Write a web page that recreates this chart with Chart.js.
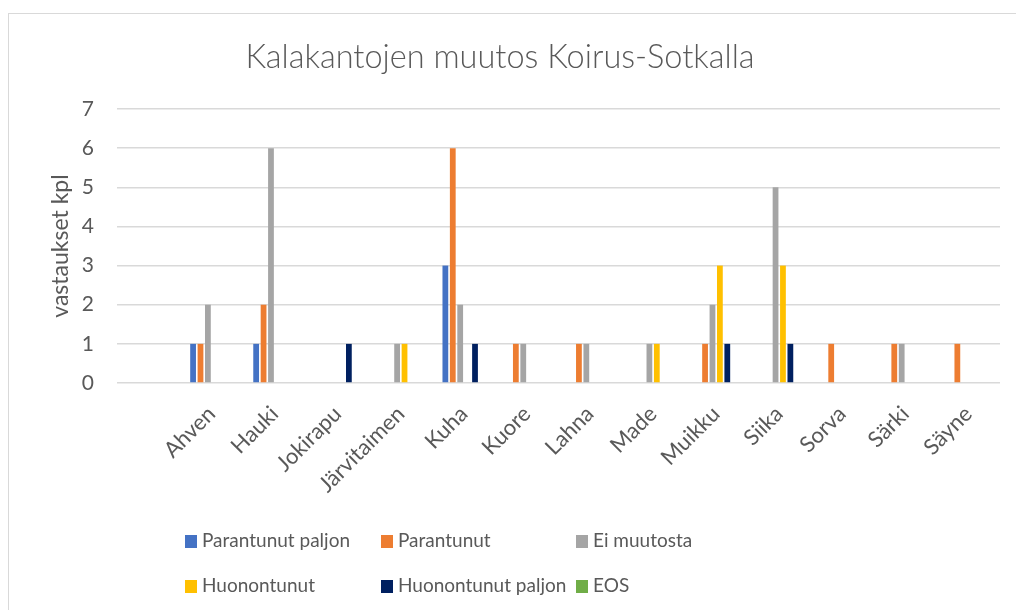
<!DOCTYPE html>
<html lang="fi">
<head>
  <meta charset="UTF-8" />
  <title>Kalakantojen muutos Koirus-Sotkalla</title>
  <script src="https://cdn.jsdelivr.net/npm/chart.js"></script>
  <style>
    body {
      margin: 0;
      background: #fff;
      font-family: Lato, 'Open Sans', Arial, sans-serif;
    }
    .wrap {
      position: relative;
      width: 1016px;
      height: 610px;
      overflow: hidden;
    }
    .frame {
      position: absolute;
      left: 8px;
      top: 13px;
      width: 1100px;
      height: 700px;
      border: 1px solid #d9d9d9;
    }
    canvas {
      position: absolute;
      left: 0;
      top: 0;
    }
    .legend-item {
      position: absolute;
      font-size: 19px;
      color: #595959;
      line-height: 22px;
      white-space: nowrap;
    }
    .legend-item span {
      display: inline-block;
      width: 12px;
      height: 13px;
      margin-right: 5px;
      vertical-align: -1px;
    }
  </style>
</head>
<body>
  <div class="wrap">
    <div class="frame"></div>
    <canvas id="kalaChart" width="1016" height="610"></canvas>
    <div id="legend"></div>
  </div>

  <script>
    // ensimmäinen luokka on tyhjä, kuten alkuperäisessä kuvassa
    const lajit = ['', 'Ahven', 'Hauki', 'Jokirapu', 'Järvitaimen', 'Kuha', 'Kuore', 'Lahna', 'Made', 'Muikku', 'Siika', 'Sorva', 'Särki', 'Säyne'];

    const parantunutPaljon = [null, 1, 1, 0, 0, 3, 0, 0, 0, 0, 0, 0, 0, 0];
    const parantunut       = [null, 1, 2, 0, 0, 6, 1, 1, 0, 1, 0, 1, 1, 1];
    const eiMuutosta       = [null, 2, 6, 0, 1, 2, 1, 1, 1, 2, 5, 0, 1, 0];
    const huonontunut      = [null, 0, 0, 0, 1, 0, 0, 0, 1, 3, 3, 0, 0, 0];
    const huonontunutPaljon = [null, 0, 0, 1, 0, 1, 0, 0, 0, 1, 1, 0, 0, 0];
    const eos              = [null, 0, 0, 0, 0, 0, 0, 0, 0, 0, 0, 0, 0, 0];

    const sarjat = [
      { nimi: 'Parantunut paljon', arvot: parantunutPaljon, vari: '#4472C4' },
      { nimi: 'Parantunut', arvot: parantunut, vari: '#ED7D31' },
      { nimi: 'Ei muutosta', arvot: eiMuutosta, vari: '#A5A5A5' },
      { nimi: 'Huonontunut', arvot: huonontunut, vari: '#FFC000' },
      { nimi: 'Huonontunut paljon', arvot: huonontunutPaljon, vari: '#002060' },
      { nimi: 'EOS', arvot: eos, vari: '#70AD47' }
    ];

    const fontti = 'Lato, "Open Sans", Arial, sans-serif';
    const harmaa = '#595959';

    new Chart(document.getElementById('kalaChart'), {
      type: 'bar',
      data: {
        labels: lajit,
        datasets: sarjat.map(s => ({
          label: s.nimi,
          data: s.arvot,
          backgroundColor: s.vari,
          borderWidth: 0,
          categoryPercentage: 0.705,
          barPercentage: 0.78
        }))
      },
      options: {
        responsive: false,
        animation: false,
        layout: { padding: { left: 0, right: 16, top: 0, bottom: 0 } },
        plugins: {
          legend: { display: false },
          tooltip: { enabled: false },
          title: {
            display: true,
            text: 'Kalakantojen muutos Koirus-Sotkalla',
            color: harmaa,
            font: { family: fontti, size: 32.5, weight: 300 },
            padding: { top: 38, bottom: 32 }
          }
        },
        scales: {
          x: {
            grid: { display: false },
            border: { display: false },
            ticks: {
              color: harmaa,
              font: { family: fontti, size: 22 },
              minRotation: 45,
              maxRotation: 45,
              padding: 10,
              autoSkip: false
            },
            afterFit: scale => { scale.height = 227; }
          },
          y: {
            min: 0,
            max: 7,
            ticks: {
              stepSize: 1,
              color: harmaa,
              font: { family: fontti, size: 21 },
              padding: 23
            },
            grid: { color: '#d9d9d9', lineWidth: 1.5, drawTicks: false },
            border: { display: false },
            title: {
              display: true,
              text: 'vastaukset kpl',
              color: harmaa,
              font: { family: fontti, size: 23 },
              padding: { top: 47, bottom: 0 }
            },
            afterFit: scale => { scale.width = 117; }
          }
        }
      }
    });

    // selite kolmessa sarakkeessa kuten Excelissä
    const sarakkeet = [185, 381, 576];
    const rivit = [529, 574];
    const legend = document.getElementById('legend');
    sarjat.forEach((s, i) => {
      const el = document.createElement('div');
      el.className = 'legend-item';
      el.style.left = sarakkeet[i % 3] + 'px';
      el.style.top = rivit[Math.floor(i / 3)] + 'px';
      el.innerHTML = `<span style="background:${s.vari}"></span>${s.nimi}`;
      legend.appendChild(el);
    });
  </script>
</body>
</html>
